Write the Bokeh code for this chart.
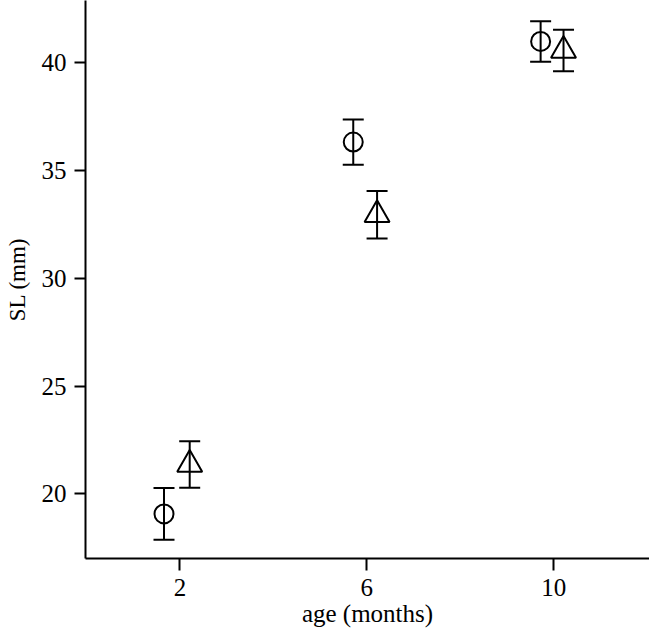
from bokeh.plotting import figure
from bokeh.models import Whisker, TeeHead, ColumnDataSource, FixedTicker, Range1d
from bokeh.embed import file_html
from bokeh.resources import INLINE

# Data
age_circle = [1.66, 5.71, 9.72]
sl_circle = [19.07, 36.32, 40.99]
err_circle = [1.20, 1.05, 0.94]

age_tri = [2.21, 6.22, 10.21]
sl_tri = [21.36, 32.95, 40.57]
err_tri = [1.08, 1.10, 0.96]

x_ticks = [2, 6, 10]
y_ticks = [20, 25, 30, 35, 40]

FONT = "Liberation Serif"

p = figure(frame_width=564, frame_height=558,
           x_range=Range1d(-0.02, 12.05), y_range=Range1d(17.0, 42.89),
           output_backend="svg", toolbar_location=None,
           min_border_left=85, min_border_right=0, min_border_top=0,
           min_border_bottom=72)
p.outline_line_color = None
p.grid.visible = False
p.background_fill_color = "white"
p.border_fill_color = "white"

src_c = ColumnDataSource(dict(x=age_circle, y=sl_circle,
                              lo=[v - e for v, e in zip(sl_circle, err_circle)],
                              hi=[v + e for v, e in zip(sl_circle, err_circle)]))
src_t = ColumnDataSource(dict(x=age_tri, y=sl_tri,
                              lo=[v - e for v, e in zip(sl_tri, err_tri)],
                              hi=[v + e for v, e in zip(sl_tri, err_tri)]))

for src in (src_c, src_t):
    w = Whisker(source=src, base="x", lower="lo", upper="hi", dimension="height",
                line_color="black", line_width=2,
                upper_head=TeeHead(size=21, line_width=2, line_color="black"),
                lower_head=TeeHead(size=21, line_width=2, line_color="black"))
    p.add_layout(w)

p.scatter("x", "y", source=src_c, marker="circle", size=19,
          fill_color=None, line_color="black", line_width=2)
p.scatter("x", "y", source=src_t, marker="triangle", size=25,
          fill_color=None, line_color="black", line_width=2)

for ax in (p.xaxis[0], p.yaxis[0]):
    ax.axis_line_width = 2
    ax.major_tick_line_width = 2
    ax.minor_tick_line_color = None
    ax.major_tick_in = 0
    ax.major_label_text_font = FONT
    ax.major_label_text_font_size = "25px"
    ax.major_label_text_color = "black"
    ax.axis_label_text_font = FONT
    ax.axis_label_text_font_size = "25px"
    ax.axis_label_text_font_style = "normal"
    ax.axis_label_text_color = "black"
    ax.axis_line_color = "black"
    ax.major_tick_line_color = "black"

p.yaxis.axis_label_text_font_size = "23px"
p.xaxis.ticker = FixedTicker(ticks=x_ticks)
p.yaxis.ticker = FixedTicker(ticks=y_ticks)
p.xaxis.major_tick_out = 12
p.yaxis.major_tick_out = 11
p.xaxis.major_label_standoff = 8
p.yaxis.major_label_standoff = 8
p.xaxis.axis_label = "age (months)"
p.yaxis.axis_label = "SL (mm)"
p.xaxis.axis_label_standoff = 1
p.yaxis.axis_label_standoff = 9

open("out.html", "w").write(file_html(p, INLINE))
